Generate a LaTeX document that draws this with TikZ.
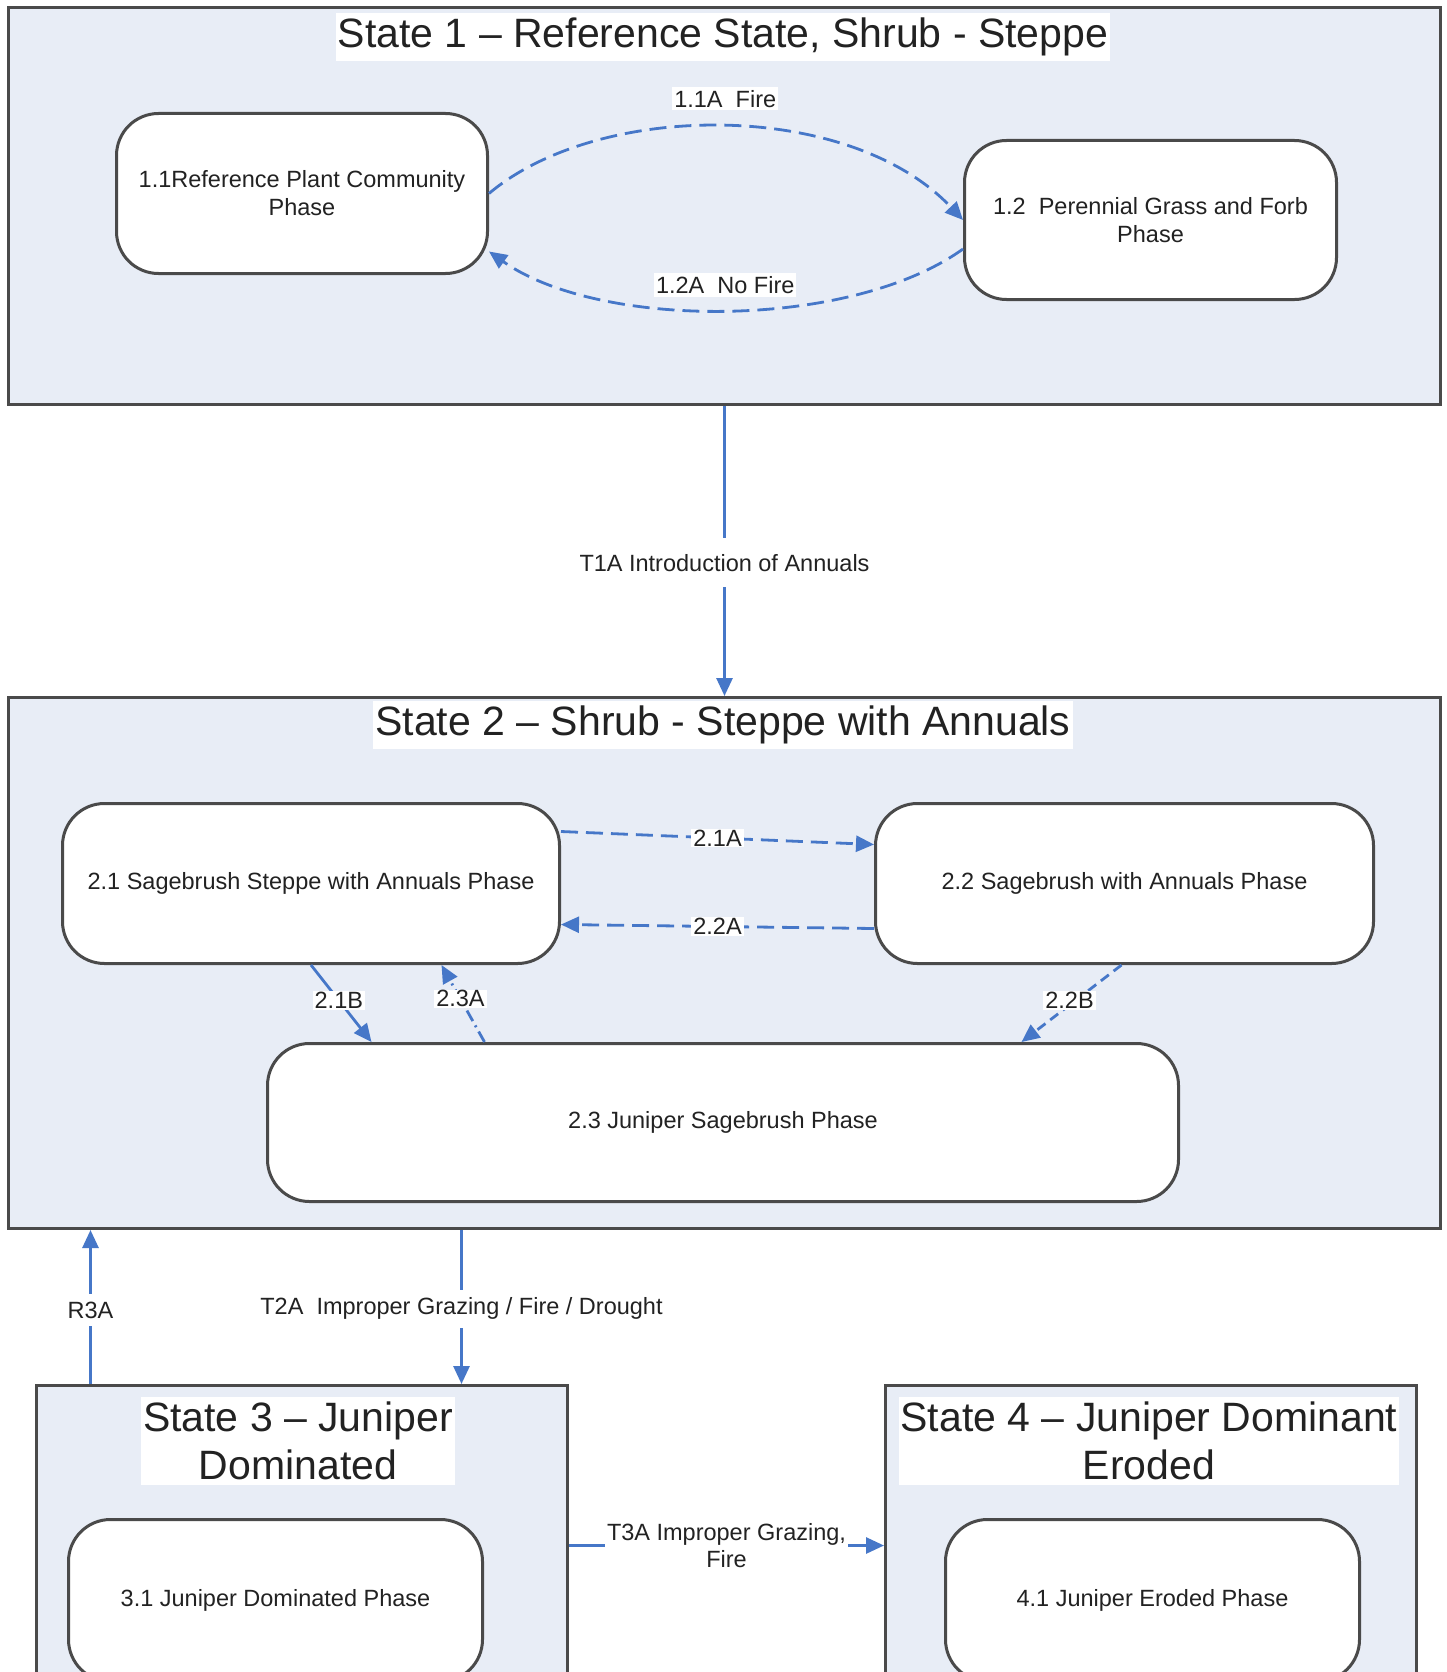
\documentclass[tikz,border=0pt]{standalone}
\usepackage{fontspec}
\setmainfont{Liberation Sans}
\usetikzlibrary{arrows.meta}
\definecolor{stfill}{HTML}{E8EDF6}
\definecolor{edgeblue}{HTML}{4677C8}
\definecolor{bord}{HTML}{4A4A4A}
\definecolor{txt}{HTML}{222222}
\begin{document}
\begin{tikzpicture}[x=1pt,y=-1pt,
  statebox/.style={draw=bord, line width=3pt, fill=stfill, anchor=north west, inner sep=0pt},
  phase/.style={draw=bord, line width=3pt, fill=white, rounded corners=42pt, anchor=north west,
    inner sep=0pt, align=center, font=\fontsize{23.5}{28}\selectfont, text=txt},
  ttl/.style={fill=white, font=\fontsize{41}{48}\selectfont, text=txt, inner xsep=2pt, inner ysep=4.5pt, align=center},
  elabel/.style={fill=white, font=\fontsize{23.5}{27}\selectfont, text=txt, inner xsep=2pt, inner ysep=3pt, align=center},
  arr/.style={draw=edgeblue, line width=2.8pt, -{Triangle[length=18pt,width=16pt]}},
  dsh/.style={dash pattern=on 17pt off 8pt},
  dshdot/.style={dash pattern=on 12pt off 5pt on 2pt off 5pt}
]
\path[use as bounding box, fill=white] (0,0) rectangle (1446,1672);
\clip (0,0) rectangle (1446,1672);

% state boxes
\node[statebox, minimum width=1432pt, minimum height=397pt] (s1) at (7,6) {};
\node[statebox, minimum width=1432pt, minimum height=531pt] (s2) at (7,696) {};
\node[statebox, minimum width=531pt, minimum height=320pt] (s3) at (35,1384) {};
\node[statebox, minimum width=531pt, minimum height=320pt] (s4) at (884,1384) {};

% titles
\node[ttl] (t1) at (723,37) {State 1 – Reference State, Shrub - Steppe};
\node[ttl] (t2) at (723,725) {State 2 – Shrub - Steppe with Annuals};
\node[ttl] (t3) at (298,1441) {State 3 – Juniper\\Dominated};
\node[ttl] (t4) at (1149,1441) {State 4 – Juniper Dominant\\Eroded};

% phases
\node[phase, minimum width=371pt, minimum height=160pt] (n11) at (115,112) {1.1Reference Plant Community\\Phase};
\node[phase, minimum width=372pt, minimum height=159pt] (n12) at (963,139) {1.2\ \ Perennial Grass and Forb\\Phase};
\node[phase, minimum width=497pt, minimum height=160pt] (n21) at (61,802) {2.1 Sagebrush Steppe with Annuals Phase};
\node[phase, minimum width=498pt, minimum height=160pt] (n22) at (874,802) {2.2 Sagebrush with Annuals Phase};
\node[phase, minimum width=911pt, minimum height=158pt] (n23) at (266,1042) {2.3 Juniper Sagebrush Phase};
\node[phase, minimum width=414pt, minimum height=162pt] (n31) at (67,1518) {3.1 Juniper Dominated Phase};
\node[phase, minimum width=414pt, minimum height=162pt] (n41) at (944,1518) {4.1 Juniper Eroded Phase};

% state 1 transitions
\draw[arr, dsh] (n11.east) .. controls (600,100) and (850,100) .. (n12.west)
  node[elabel, pos=0.5, yshift=28pt] (l11a) {1.1A\ \ Fire};
\draw[arr, dsh] ([yshift=-29pt]n12.west) .. controls (850,330) and (600,330) .. ([yshift=-58pt]n11.east)
  node[elabel, pos=0.5, yshift=25pt] (l12a) {1.2A\ \ No Fire};

% state 2 transitions
\draw[arr, dsh] ([yshift=52pt]n21.east) -- ([yshift=39pt]n22.west)
  node[elabel, pos=0.5, inner ysep=1pt] (l21a) {2.1A};
\draw[arr, dsh] ([yshift=-45pt]n22.west) -- ([yshift=-41pt]n21.east)
  node[elabel, pos=0.5, inner ysep=1pt] (l22a) {2.2A};
\draw[arr] (n21.south) -- ([xshift=-351.5pt]n23.north)
  node[elabel, pos=0.46, inner ysep=1pt] (l21b) {2.1B};
\draw[arr, dshdot] ([xshift=-238.5pt]n23.north) -- ([xshift=130.5pt]n21.south)
  node[elabel, pos=0.56, inner ysep=1pt] (l23a) {2.3A};
\draw[arr, dash pattern=on 10pt off 6pt] ([xshift=-3pt]n22.south) -- ([xshift=298.5pt]n23.north)
  node[elabel, pos=0.46, xshift=-6pt, inner ysep=1pt] (l22b) {2.2B};

% state transitions
\draw[arr] (s1.south) -- (s2.north)
  node[elabel, pos=0.54, inner ysep=16pt] (lt1a) {T1A Introduction of Annuals};
\draw[arr] ([xshift=-263pt]s2.south) -- ([xshift=159.5pt]s3.north)
  node[elabel, pos=0.51, inner ysep=8pt] (lt2a) {T2A\ \ Improper Grazing / Fire / Drought};
\draw[arr] ([xshift=-211.5pt]s3.north) -- ([xshift=-634pt]s2.south)
  node[elabel, pos=0.48, inner ysep=8pt] (lr3a) {R3A};
\draw[arr] (s3.east) -- (s4.west)
  node[elabel, pos=0.5, inner ysep=1pt] (lt3a) {T3A Improper Grazing,\\Fire};
\end{tikzpicture}
\end{document}
